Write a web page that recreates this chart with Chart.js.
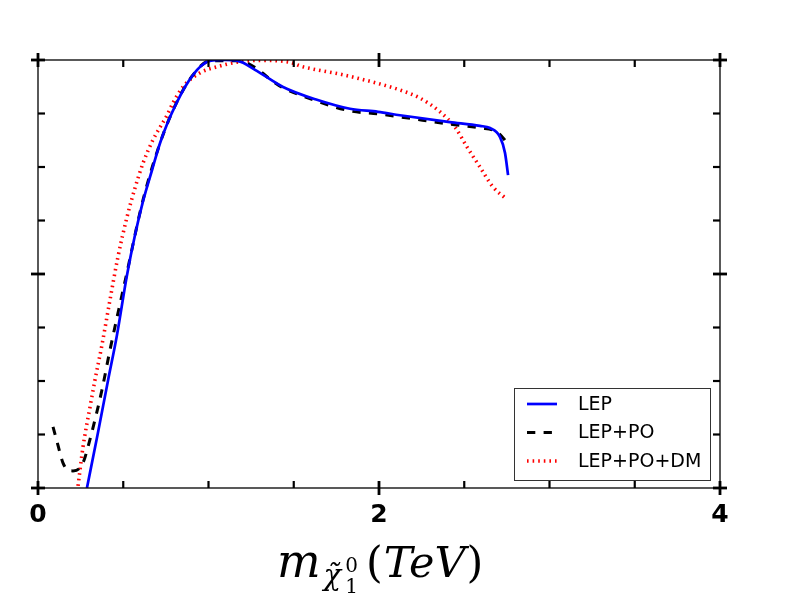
<!DOCTYPE html>
<html>
<head>
<meta charset="utf-8">
<title>LEP profile</title>
<script src="https://cdn.jsdelivr.net/npm/chart.js@4.4.1/dist/chart.umd.min.js"></script>
<style>
  body { margin: 0; background: #fff; }
  canvas { display: block; }
</style>
</head>
<body>
<canvas id="profileChart" width="800" height="600"></canvas>
<script>
// Values: neutralino mass (TeV) vs normalised profile
var lepX = [0.287, 0.349, 0.411, 0.463, 0.520, 0.569, 0.618, 0.669, 0.716, 0.762, 0.813, 0.862, 0.909, 0.956, 1.009, 1.097, 1.173, 1.273, 1.437, 1.636, 1.830, 1.994, 2.123, 2.416, 2.592, 2.651, 2.710, 2.739, 2.757];
var lepY = [0.000, 0.124, 0.252, 0.357, 0.493, 0.591, 0.673, 0.743, 0.806, 0.855, 0.900, 0.937, 0.965, 0.986, 0.998, 1.000, 0.998, 0.977, 0.937, 0.907, 0.886, 0.879, 0.871, 0.855, 0.846, 0.841, 0.820, 0.783, 0.731];

var lepPoX = [0.088, 0.117, 0.147, 0.176, 0.205, 0.246, 0.270, 0.293, 0.334, 0.375, 0.422, 0.516, 0.616, 0.716, 0.812, 0.909, 1.009, 1.173, 1.437, 1.636, 1.830, 1.994, 2.123, 2.416, 2.592, 2.692, 2.757];
var lepPoY = [0.143, 0.100, 0.058, 0.042, 0.040, 0.047, 0.065, 0.096, 0.159, 0.229, 0.322, 0.493, 0.673, 0.806, 0.900, 0.965, 0.998, 0.998, 0.935, 0.904, 0.881, 0.874, 0.867, 0.850, 0.841, 0.832, 0.804];

var lepPoDmX = [0.235, 0.264, 0.305, 0.334, 0.375, 0.422, 0.469, 0.522, 0.569, 0.616, 0.674, 0.716, 0.757, 0.792, 0.850, 0.950, 1.050, 1.167, 1.302, 1.478, 1.537, 1.636, 1.771, 1.889, 2.006, 2.123, 2.240, 2.358, 2.446, 2.516, 2.592, 2.669, 2.739];
var lepPoDmY = [0.005, 0.096, 0.189, 0.252, 0.334, 0.439, 0.540, 0.633, 0.701, 0.759, 0.813, 0.843, 0.871, 0.900, 0.937, 0.970, 0.984, 0.995, 0.999, 0.995, 0.986, 0.977, 0.967, 0.956, 0.944, 0.930, 0.911, 0.879, 0.843, 0.797, 0.750, 0.703, 0.678];

var seriesNames = ["LEP", "LEP+PO", "LEP+PO+DM"];

// tick positions (axis units)
var xMajorTicks = [0, 2, 4];
var xMinorTicks = [0.5, 1, 1.5, 2.5, 3, 3.5];
var yMajorTicks = [0, 0.5, 1];
var yMinorTicks = [0.125, 0.25, 0.375, 0.625, 0.75, 0.875];

function toPoints(xs, ys) {
    var pts = [];
    for (var i = 0; i < xs.length; i++) {
        pts.push({x: xs[i], y: ys[i]});
    }
    return pts;
}

function tick(ctx, x1, y1, x2, y2, w) {
    ctx.lineWidth = w;
    ctx.beginPath();
    ctx.moveTo(x1, y1);
    ctx.lineTo(x2, y2);
    ctx.stroke();
}

// frame + inward/outward ticks, matplotlib style
var frameTicks = {
    id: 'frameTicks',
    afterDatasetsDraw: function(chart) {
        var ctx = chart.ctx, a = chart.chartArea;
        var xs = chart.scales.x, ys = chart.scales.y;
        ctx.save();
        ctx.strokeStyle = '#000';
        ctx.lineCap = 'butt';
        ctx.lineWidth = 1.3;
        ctx.strokeRect(a.left, a.top, a.right - a.left, a.bottom - a.top);

        xMajorTicks.forEach(function(v) {
            var px = xs.getPixelForValue(v);
            tick(ctx, px, a.bottom + 7, px, a.bottom - 7, 2.8);
            tick(ctx, px, a.top - 7, px, a.top + 7, 2.8);
        });
        xMinorTicks.forEach(function(v) {
            var px = xs.getPixelForValue(v);
            tick(ctx, px, a.bottom, px, a.bottom - 7, 2.2);
            tick(ctx, px, a.top, px, a.top + 7, 2.2);
        });
        yMajorTicks.forEach(function(v) {
            var py = ys.getPixelForValue(v);
            tick(ctx, a.left - 7, py, a.left + 7, py, 2.8);
            tick(ctx, a.right - 7, py, a.right + 7, py, 2.8);
        });
        yMinorTicks.forEach(function(v) {
            var py = ys.getPixelForValue(v);
            tick(ctx, a.left, py, a.left + 7, py, 2.2);
            tick(ctx, a.right - 7, py, a.right, py, 2.2);
        });
        ctx.restore();
    },
    afterDraw: function(chart) {
        var ctx = chart.ctx, a = chart.chartArea;
        ctx.save();

        // legend, lower right inside the axes
        var lx = 514, ly = 388, lw = 196, lh = 92;
        ctx.fillStyle = '#fff';
        ctx.fillRect(lx, ly, lw, lh);
        ctx.strokeStyle = '#333';
        ctx.lineWidth = 1;
        ctx.strokeRect(lx + 0.5, ly + 0.5, lw, lh);
        ctx.font = '19px "DejaVu Sans"';
        ctx.textBaseline = 'middle';
        chart.data.datasets.forEach(function(ds, i) {
            var ry = ly + 16 + i * 28.5;
            ctx.strokeStyle = ds.borderColor;
            ctx.lineWidth = ds.borderWidth;
            ctx.setLineDash(ds.borderDash || []);
            ctx.beginPath();
            ctx.moveTo(lx + 13, ry);
            ctx.lineTo(lx + 43, ry);
            ctx.stroke();
            ctx.setLineDash([]);
            ctx.fillStyle = '#000';
            ctx.fillText(ds.label, lx + 64, ry + 1);
        });

        // axis title  m_{chi~_1^0} (TeV)
        var cx = (a.left + a.right) / 2;
        var base = 577;
        var x = cx - 102;
        ctx.fillStyle = '#000';
        ctx.textBaseline = 'alphabetic';
        ctx.font = 'italic 46px "DejaVu Serif"';
        ctx.fillText('m', x, base);
        x += ctx.measureText('m').width + 3;
        ctx.font = 'italic 29px "DejaVu Serif"';
        ctx.fillText('\u03c7\u0303', x, base + 8);
        x += ctx.measureText('\u03c7').width + 4;
        ctx.font = '20px "DejaVu Serif"';
        ctx.fillText('0', x, base - 5);
        ctx.fillText('1', x, base + 16);
        x += ctx.measureText('0').width + 8;
        ctx.font = '43px "DejaVu Serif"';
        ctx.fillText('(', x, base);
        x += ctx.measureText('(').width + 1;
        ctx.font = 'italic 43px "DejaVu Serif"';
        ctx.fillText('TeV', x, base);
        x += ctx.measureText('TeV').width + 1;
        ctx.font = '43px "DejaVu Serif"';
        ctx.fillText(')', x, base);
        ctx.restore();
    }
};

var ctx = document.getElementById('profileChart');
Chart.defaults.color = '#000';
Chart.defaults.font.family = '"DejaVu Sans"';

var profileChart = new Chart(ctx, {
    type: 'line',
    data: {
        datasets: [
            {
                label: seriesNames[0],
                data: toPoints(lepX, lepY),
                borderColor: '#0000ff',
                borderWidth: 2.7,
                pointRadius: 0,
                fill: false,
                cubicInterpolationMode: 'monotone'
            },
            {
                label: seriesNames[1],
                data: toPoints(lepPoX, lepPoY),
                borderColor: '#000000',
                borderWidth: 3,
                borderDash: [8.3, 8.3],
                pointRadius: 0,
                fill: false,
                cubicInterpolationMode: 'monotone'
            },
            {
                label: seriesNames[2],
                data: toPoints(lepPoDmX, lepPoDmY),
                borderColor: '#ff0000',
                borderWidth: 3.6,
                borderDash: [1.6, 4],
                pointRadius: 0,
                fill: false,
                cubicInterpolationMode: 'monotone'
            }
        ]
    },
    options: {
        responsive: false,
        animation: false,
        layout: { padding: { left: 38, top: 60, right: 80, bottom: 0 } },
        plugins: {
            legend: { display: false },
            tooltip: { enabled: false }
        },
        scales: {
            x: {
                type: 'linear',
                min: 0,
                max: 4,
                grid: { display: false, drawTicks: false },
                border: { display: false },
                ticks: {
                    stepSize: 2,
                    padding: 12,
                    font: { size: 25, weight: 'bold', family: '"DejaVu Sans"' },
                    color: '#000'
                },
                afterFit: function(scale) { scale.height = 112; }
            },
            y: {
                type: 'linear',
                min: 0,
                max: 1,
                display: false
            }
        }
    },
    plugins: [frameTicks]
});
</script>
</body>
</html>
